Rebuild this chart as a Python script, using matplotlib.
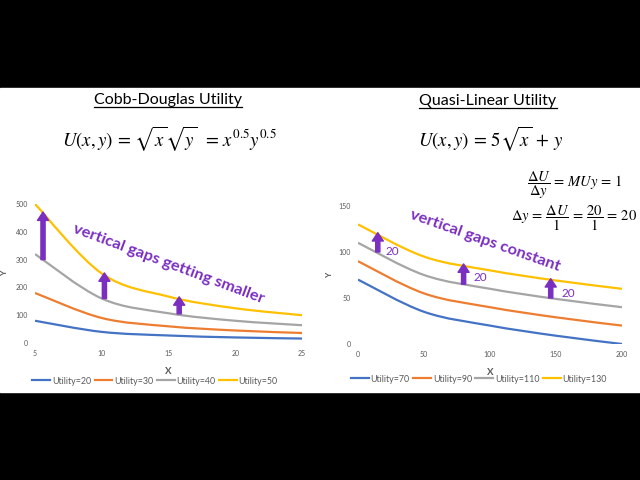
import numpy as np
import matplotlib
matplotlib.use("Agg")
import matplotlib.pyplot as plt
from matplotlib.path import Path
from matplotlib.patches import PathPatch, Rectangle
from matplotlib.lines import Line2D

plt.rcParams['font.family'] = ['Lato', 'DejaVu Sans']
plt.rcParams['mathtext.fontset'] = 'stix'

# Cobb-Douglas indifference curves
cd_x = [5, 10, 15, 20, 25]
cd_u20 = [80, 40, 27, 20, 16]
cd_u30 = [180, 90, 60, 45, 36]
cd_u40 = [320, 160, 107, 80, 64]
cd_u50 = [500, 250, 167, 125, 100]
cd_labels = ['Utility=20', 'Utility=30', 'Utility=40', 'Utility=50']

# quasi-linear indifference curves
ql_x = [0, 50, 100, 150, 200]
ql_u70 = [70, 35, 20, 9, 0]
ql_u90 = [90, 55, 40, 29, 20]
ql_u110 = [110, 75, 60, 49, 40]
ql_u130 = [130, 95, 80, 69, 60]
ql_labels = ['Utility=70', 'Utility=90', 'Utility=110', 'Utility=130']

colors = ['#4472C4', '#ED7D31', '#A5A5A5', '#FFC000']
purple = '#7A2FC0'
grey_txt = '#595959'


def smooth_line(ax, xs, ys, color):
    # excel style smoothed line (bezier through the points)
    p = np.column_stack([xs, ys]).astype(float)
    n = len(p)
    verts = [p[0]]
    codes = [Path.MOVETO]
    for i in range(n - 1):
        p0 = p[i - 1] if i > 0 else p[i]
        p3 = p[i + 2] if i + 2 < n else p[i + 1]
        c1 = p[i] + (p[i + 1] - p0) / 6
        c2 = p[i + 1] - (p3 - p[i]) / 6
        verts += [c1, c2, p[i + 1]]
        codes += [Path.CURVE4] * 3
    ax.add_patch(PathPatch(Path(verts, codes), fill=False, edgecolor=color,
                           lw=1.6, capstyle='butt'))


def style_axes(ax):
    for s in ax.spines.values():
        s.set_visible(False)
    ax.tick_params(length=0, labelsize=5, labelcolor=grey_txt, pad=5)
    ax.set_facecolor('none')


def up_arrow(ax, x, y0, y1):
    ax.annotate('', xy=(x, y1), xytext=(x, y0),
                arrowprops=dict(width=3, headwidth=8, headlength=6,
                                color=purple, shrink=0))


fig = plt.figure(figsize=(6.4, 4.8), dpi=100, facecolor='black')
fig.patches.append(Rectangle((0, 1 - 392 / 480), 1, 304 / 480,
                             transform=fig.transFigure, color='white', zorder=-5))

# left chart
ax1 = fig.add_axes([35 / 640, 1 - 343 / 480, 267 / 640, 139 / 480])
style_axes(ax1)
for ys, c in zip([cd_u20, cd_u30, cd_u40, cd_u50], colors):
    smooth_line(ax1, cd_x, ys, c)
ax1.set_xlim(5, 25)
ax1.set_ylim(0, 500)
ax1.set_xticks([5, 10, 15, 20, 25])
ax1.set_yticks([0, 100, 200, 300, 400, 500])
ax1.set_xlabel('X', fontsize=7, color=grey_txt, fontweight='bold')
ax1.set_ylabel('Y', fontsize=6, color=grey_txt, fontweight='bold')
ax1.xaxis.set_label_coords(0.5, -0.173)
ax1.yaxis.set_label_coords(-0.10, 0.5)
up_arrow(ax1, 5.6, 300, 471)
up_arrow(ax1, 10.2, 160, 252)
up_arrow(ax1, 15.8, 105, 166)
ax1.text(15.0, 286, 'vertical gaps getting smaller', color=purple,
         fontsize=11.8, fontweight='bold', rotation=-20.5,
         rotation_mode='anchor', ha='center', va='center')
h1 = [Line2D([], [], color=c, lw=1.6) for c in colors]
fig.legend(h1, cd_labels, loc='center', bbox_to_anchor=(155 / 640, 1 - 381 / 480),
           ncol=4, frameon=False, fontsize=6.4, labelcolor=grey_txt,
           handlelength=2.0, handletextpad=0.2, columnspacing=0.4)

# right chart
ax2 = fig.add_axes([358 / 640, 1 - 344 / 480, 264 / 640, 138 / 480])
style_axes(ax2)
for ys, c in zip([ql_u70, ql_u90, ql_u110, ql_u130], colors):
    smooth_line(ax2, ql_x, ys, c)
ax2.set_xlim(0, 200)
ax2.set_ylim(0, 150)
ax2.set_xticks([0, 50, 100, 150, 200])
ax2.set_yticks([0, 50, 100, 150])
ax2.set_xlabel('X', fontsize=7, color=grey_txt, fontweight='bold')
ax2.set_ylabel('Y', fontsize=6, color=grey_txt, fontweight='bold')
ax2.xaxis.set_label_coords(0.5, -0.174)
ax2.yaxis.set_label_coords(-0.095, 0.5)
for x, y0, y1, lx, ly in [(15, 100, 121, 26, 101), (80, 65, 87, 93, 72),
                          (146, 50, 71, 159, 55)]:
    up_arrow(ax2, x, y0, y1)
    ax2.text(lx, ly, '20', color=purple, fontsize=8.5, ha='center', va='center')
ax2.text(96, 112, 'vertical gaps constant', color=purple,
         fontsize=11.8, fontweight='bold', rotation=-19.5,
         rotation_mode='anchor', ha='center', va='center')
h2 = [Line2D([], [], color=c, lw=1.6) for c in colors]
fig.legend(h2, ql_labels, loc='center', bbox_to_anchor=(479 / 640, 1 - 379 / 480),
           ncol=4, frameon=False, fontsize=6.4, labelcolor=grey_txt,
           handlelength=2.0, handletextpad=0.2, columnspacing=0.4)

# titles and formulas
t1 = fig.text(168 / 640, 1 - 100 / 480, 'Cobb-Douglas Utility', fontsize=11.5,
              ha='center', va='center', color='black')
t2 = fig.text(488 / 640, 1 - 101 / 480, 'Quasi-Linear Utility', fontsize=11.5,
              ha='center', va='center', color='black')
fig.text(169 / 640, 1 - 139 / 480,
         r'$U(x,y)\,=\,\sqrt{x}\sqrt{y}\ \,=\,x^{0.5}y^{0.5}$',
         fontsize=13.5, ha='center', va='center')
fig.text(491 / 640, 1 - 139 / 480, r'$U(x,y)\,=\,5\sqrt{x}\,+\,y$',
         fontsize=13.5, ha='center', va='center')
fig.text(575 / 640, 1 - 185 / 480,
         r'$\dfrac{\Delta U}{\Delta y}\,=\,MUy\,=\,1$',
         fontsize=10.5, ha='center', va='center')
fig.text(574 / 640, 1 - 218 / 480,
         r'$\Delta y\,=\,\dfrac{\Delta U}{1}\,=\,\dfrac{20}{1}\,=\,20$',
         fontsize=10.5, ha='center', va='center')

# underline the titles
fig.canvas.draw()
r = fig.canvas.get_renderer()
for t in (t1, t2):
    bb = t.get_window_extent(r).transformed(fig.transFigure.inverted())
    fig.add_artist(Line2D([bb.x0, bb.x1], [bb.y0 + 0.001, bb.y0 + 0.001],
                          transform=fig.transFigure, color='black', lw=0.9))

fig.savefig('out.png', dpi=100, facecolor='black')
